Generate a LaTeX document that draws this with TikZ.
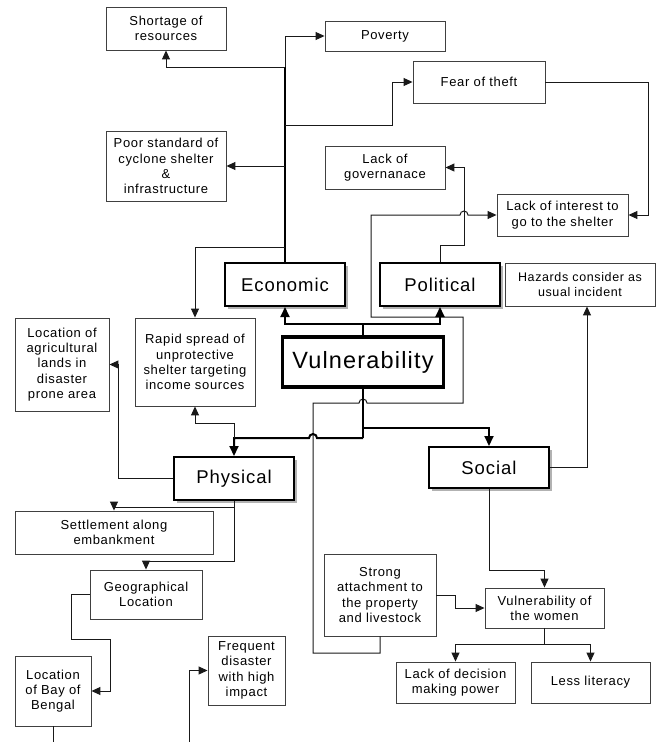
\documentclass[tikz,border=0pt]{standalone}
\usepackage{fontspec}
\setmainfont{Liberation Sans}[LetterSpace=5]
\usetikzlibrary{arrows.meta,shadows}
\begin{document}
\begin{tikzpicture}[x=1pt,y=-1pt,
  box/.style={draw=black!75, line width=0.9pt, fill=white, align=center, inner sep=0pt,
    font=\fontsize{13}{15.3}\selectfont},
  cat/.style={draw=black, line width=2pt, fill=white, align=center, inner sep=0pt,
    minimum width=120pt, minimum height=43pt, font=\fontsize{18.5}{22}\selectfont,
    drop shadow={shadow xshift=2.5pt, shadow yshift=-2.5pt, opacity=0.3, fill=black}},
  core/.style={draw=black, line width=3.6pt, fill=white, align=center, inner sep=0pt,
    font=\fontsize{23.5}{28}\selectfont},
  ln/.style={draw=black!90, line width=1pt},
  arr/.style={ln, -{Triangle[length=9pt,width=8pt]}},
  tln/.style={draw=black, line width=2pt},
  tarr/.style={tln, -{Triangle[length=10pt,width=9pt]}},
]
\fill[white] (0,0) rectangle (657,742);
\useasboundingbox (0,0) rectangle (657,742);

% ---------- nodes ----------
\node[box, minimum width=120pt, minimum height=43pt] (short) at (166,28.5) {Shortage of\\resources};
\node[box, minimum width=120pt, minimum height=30pt] (pov) at (385,36) {Poverty};
\node[box, minimum width=132pt, minimum height=42pt] (fear) at (479,82) {Fear of theft};
\node[box, minimum width=120pt, minimum height=70pt] (poor) at (166,166) {Poor standard of\\cyclone shelter\\\&\\infrastructure};
\node[box, minimum width=120pt, minimum height=43pt] (gov) at (385,167.5) {Lack of\\governanace};
\node[box, minimum width=131pt, minimum height=42pt] (lint) at (562.5,215) {Lack of interest to\\go to the shelter};
\node[cat] (eco) at (285,284.5) {Economic};
\node[cat] (pol) at (440,284.5) {Political};
\node[box, minimum width=150pt, minimum height=43pt, font=\fontsize{12.5}{15}\selectfont] (haz) at (580,284.5) {Hazards consider as\\usual incident};
\node[core, minimum width=161pt, minimum height=50pt] (vul) at (363,362) {Vulnerability};
\node[box, minimum width=94pt, minimum height=93pt] (agri) at (62,364.5) {Location of\\agricultural\\lands in\\disaster\\prone area};
\node[box, minimum width=120pt, minimum height=88pt] (rapid) at (195,362) {Rapid spread of\\unprotective\\shelter targeting\\income sources};
\node[cat] (phys) at (234,478.5) {Physical};
\node[cat, minimum height=41pt] (soc) at (489,467.5) {Social};
\node[box, minimum width=198pt, minimum height=43pt] (settle) at (114,532.5) {Settlement along\\embankment};
\node[box, minimum width=112pt, minimum height=49pt] (geo) at (146,594.5) {Geographical\\Location};
\node[box, minimum width=76pt, minimum height=70pt] (bay) at (53,691) {Location\\of Bay of\\Bengal};
\node[box, minimum width=77pt, minimum height=69pt] (freq) at (246.5,670.5) {Frequent\\disaster\\with high\\impact};
\node[box, minimum width=112pt, minimum height=82pt] (strong) at (380,595) {Strong\\attachment to\\the property\\and livestock};
\node[box, minimum width=119pt, minimum height=40pt] (women) at (544.5,608) {Vulnerability of\\the women};
\node[box, minimum width=119pt, minimum height=41pt] (lack) at (455.5,682.5) {Lack of decision\\making power};
\node[box, minimum width=119pt, minimum height=41pt] (less) at (590.5,682.5) {Less literacy};

% ---------- junction coordinates ----------
\coordinate (eTop) at (285,36);
\coordinate (eShort) at (285,67);
\coordinate (eFear) at (285,125);
\coordinate (ePoor) at (285,166);
\coordinate (eRapid) at (285,247);
\coordinate (vTop) at (363,324);
\coordinate (jS) at (363,428);
\coordinate (jP) at (363,438);
\coordinate (pJ) at (234,438);
\coordinate (pBot) at (234,507);
\coordinate (bayEnd) at (53,742);
\coordinate (freqEnd) at (189,742);

% ---------- economic spine ----------
\draw[line width=1.6pt, draw=black] (eco.north) -- (eShort);
\draw[arr] (eShort) -- (eTop) -- (pov.west);
\draw[arr] (eShort) -| (short.south);
\draw[arr] (eFear) -- (392,125) |- (fear.west);
\draw[arr] (ePoor) -- (poor.east);
\draw[arr] (eRapid) -| (rapid.north);

% ---------- fear -> lack of interest ----------
\draw[arr] (fear.east) -- (648,82) |- (lint.east);

% ---------- political -> governance ----------
\draw[arr] (pol.north) -- (440,245) -- (464,245) |- (gov.east);

% ---------- long path strong attachment -> lack of interest ----------
\draw[arr] (strong.south) -- (380,653) -- (313,653) -- (313,403) -- (359,403)
  arc[start angle=180,end angle=0,radius=4pt] -- (463,403) -- (463,317) -- (371,317)
  -- (371,215) -- (460,215) arc[start angle=180,end angle=0,radius=4pt] -- (lint.west);

% ---------- vulnerability (thick) ----------
\draw[tln] (vul.north) -- (vTop);
\draw[tarr] (vTop) -| (eco.south);
\draw[tarr] (vTop) -| (pol.south);
\draw[tln] (vul.south) -- (jP);
\draw[tarr] (jS) -| (soc.north);
\draw[tarr] (jP) -- (317,438) arc[start angle=0,end angle=180,radius=4pt] -- (pJ) -- (phys.north);

% ---------- physical ----------
\draw[arr] (pJ) -- (234,423) -| (rapid.south);
\draw[arr] (phys.west) -- (118,478.5) |- (agri.east);
\draw[arr] (phys.south) -- (234,561) -| (geo.north);
\draw[arr] (pBot) -| (settle.north);
\draw[arr] (geo.west) -- (71,594.5) -- (71,639) -- (110,639) |- (bay.east);
\draw[ln] (bay.south) -- (bayEnd);
\draw[arr] (freqEnd) |- (freq.west);

% ---------- social ----------
\draw[arr] (soc.east) -| ([xshift=7pt]haz.south);
\draw[arr] (soc.south) -- (489,570) -| (women.north);
\draw[arr] (strong.east) -- (455,595) |- (women.west);
\draw[arr] (women.south) -- (544.5,644) -| (lack.north);
\draw[arr] (women.south) -- (544.5,644) -| (less.north);
\end{tikzpicture}
\end{document}
